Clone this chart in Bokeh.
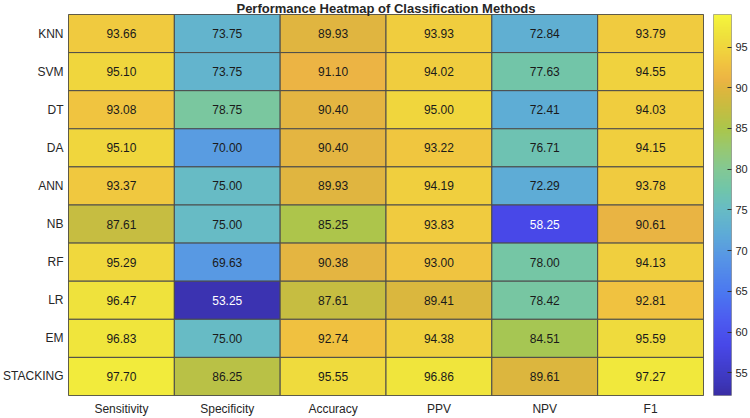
import numpy as np
from bokeh.plotting import figure
from bokeh.models import ColumnDataSource, LinearColorMapper, FixedTicker, Range1d
from bokeh.layouts import row
from bokeh.core.properties import value
from bokeh.embed import file_html
from bokeh.resources import INLINE

# ---- data -------------------------------------------------------------
methods = ["KNN", "SVM", "DT", "DA", "ANN", "NB", "RF", "LR", "EM", "STACKING"]
metrics = ["Sensitivity", "Specificity", "Accuracy", "PPV", "NPV", "F1"]

sensitivity = [93.66, 95.10, 93.08, 95.10, 93.37, 87.61, 95.29, 96.47, 96.83, 97.70]
specificity = [73.75, 73.75, 78.75, 70.00, 75.00, 75.00, 69.63, 53.25, 75.00, 86.25]
accuracy = [89.93, 91.10, 90.40, 90.40, 89.93, 85.25, 90.38, 87.61, 92.74, 95.55]
ppv = [93.93, 94.02, 95.00, 93.22, 94.19, 93.83, 93.00, 89.41, 94.38, 96.86]
npv = [72.84, 77.63, 72.41, 76.71, 72.29, 58.25, 78.00, 78.42, 84.51, 89.61]
f1 = [93.79, 94.55, 94.03, 94.15, 93.78, 90.61, 94.13, 92.81, 95.59, 97.27]

colorbar_ticks = [55, 60, 65, 70, 75, 80, 85, 90, 95]
CLIM_LOW, CLIM_HIGH = 52.2, 99.0

# ---- parula-like colour scale ------------------------------------------
_stops = [
    (0.00, "#3a2ea4"), (0.03, "#3c36b8"), (0.13, "#4848e8"), (0.20, "#4c5cf0"),
    (0.27, "#4b78f0"), (0.37, "#5898e4"), (0.43, "#5eadd5"), (0.49, "#68bcc4"),
    (0.54, "#70c5aa"), (0.59, "#82c896"), (0.65, "#98c870"), (0.70, "#aac64c"),
    (0.76, "#c8bc40"), (0.80, "#dcb63e"), (0.83, "#ecb444"), (0.87, "#f0c240"),
    (0.90, "#f0d03e"), (0.95, "#efe23c"), (1.00, "#f6f63c"),
]


def _rgb(h):
    return [int(h[i:i + 2], 16) for i in (1, 3, 5)]


def build_palette(n=256):
    pos = np.array([s[0] for s in _stops])
    cols = np.array([_rgb(s[1]) for s in _stops], dtype=float)
    t = np.linspace(0, 1, n)
    chans = [np.interp(t, pos, cols[:, k]) for k in range(3)]
    return ["#%02x%02x%02x" % tuple(int(round(c[i])) for c in chans) for i in range(n)]


palette = build_palette()
mapper = LinearColorMapper(palette=palette, low=CLIM_LOW, high=CLIM_HIGH)


def text_color_for(v):
    idx = int(np.clip((v - CLIM_LOW) / (CLIM_HIGH - CLIM_LOW) * (len(palette) - 1), 0, len(palette) - 1))
    r, g, b = _rgb(palette[idx])
    return "#ffffff" if 0.299 * r + 0.587 * g + 0.114 * b < 115 else "#1a1a1a"


# ---- long-form table -----------------------------------------------------
columns = [sensitivity, specificity, accuracy, ppv, npv, f1]
xs, ys, vals = [], [], []
for metric, col in zip(metrics, columns):
    for method, v in zip(methods, col):
        xs.append(metric)
        ys.append(method)
        vals.append(v)

source = ColumnDataSource(dict(
    metric=xs, method=ys, val=vals,
    label=["%.2f" % v for v in vals],
    tcolor=[text_color_for(v) for v in vals],
))

FONT = "Liberation Sans"

# ---- heatmap --------------------------------------------------------------
p = figure(
    width=705, height=418,
    x_range=metrics, y_range=list(reversed(methods)),
    output_backend="svg", toolbar_location=None,
    min_border_left=67, min_border_right=2, min_border_top=14, min_border_bottom=21,
    title="Performance Heatmap of Classification Methods",
)
p.title.align = "center"
p.title.text_font = FONT
p.title.text_font_size = "13px"
p.title.text_font_style = "bold"
p.title.text_color = "#262626"
p.title.standoff = -3
p.title.offset = 0

p.rect(x="metric", y="method", width=1, height=1, source=source,
       fill_color={"field": "val", "transform": mapper},
       line_color="#4a4a4a", line_width=1)
p.text(x="metric", y="method", text="label", source=source,
       text_align="center", text_baseline="middle",
       text_font=value(FONT), text_font_size="12px", text_color="tcolor")

p.grid.visible = False
p.outline_line_color = "#4a4a4a"
for ax in (p.xaxis[0], p.yaxis[0]):
    ax.axis_line_color = None
    ax.major_tick_line_color = None
    ax.minor_tick_line_color = None
    ax.major_tick_out = 0
    ax.major_tick_in = 0
    ax.major_label_text_font = FONT
    ax.major_label_text_font_size = "12px"
    ax.major_label_text_color = "#262626"
p.yaxis.major_label_standoff = 5
p.xaxis.major_label_standoff = 6

# ---- colour bar -----------------------------------------------------------
cb = figure(
    width=45, height=418,
    x_range=Range1d(0, 1), y_range=Range1d(CLIM_LOW, CLIM_HIGH),
    output_backend="svg", toolbar_location=None,
    x_axis_location=None, y_axis_location="right",
    min_border_left=8, min_border_right=18, min_border_top=14, min_border_bottom=21,
)
grad = np.linspace(CLIM_LOW, CLIM_HIGH, 256).reshape(-1, 1)
cb.image(image=[grad], x=0, y=CLIM_LOW, dw=1, dh=CLIM_HIGH - CLIM_LOW, color_mapper=mapper)
cb.grid.visible = False
cb.outline_line_color = "#9a9a9a"
cax = cb.yaxis[0]
cax.ticker = FixedTicker(ticks=colorbar_ticks)
cax.axis_line_color = None
cax.minor_tick_line_color = None
cax.major_tick_in = 4
cax.major_tick_out = 0
cax.major_tick_line_color = "#333333"
cax.major_label_standoff = 4
cax.major_label_text_font = FONT
cax.major_label_text_font_size = "11px"
cax.major_label_text_color = "#262626"

layout = row(p, cb)
open("out.html", "w").write(file_html(layout, INLINE))
